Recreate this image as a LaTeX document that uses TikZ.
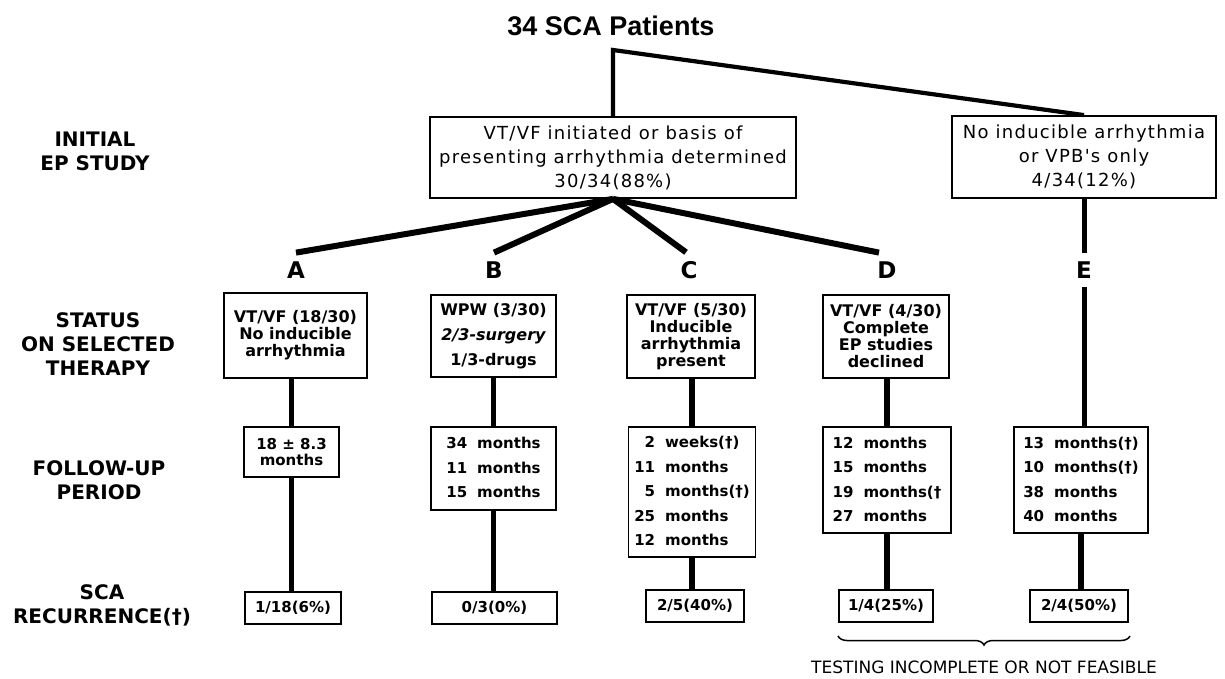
\documentclass[tikz,border=0pt]{standalone}
\usepackage{fontspec}
\setmainfont{DejaVu Sans}
\newfontfamily\titlefont{Liberation Sans}
\newfontfamily\topfont[LetterSpace=7]{DejaVu Sans}
\usetikzlibrary{decorations.pathreplacing}
\tikzset{
  box/.style={draw, line width=1.8pt, inner sep=0pt, align=center},
  topbox/.style={box, font=\topfont\fontsize{18}{24}\selectfont},
  stbox/.style={box, font=\bfseries\fontsize{16}{17}\selectfont, minimum height=83pt},
  fubox/.style={box, font=\bfseries\fontsize{15}{24.5}\selectfont},
  resbox/.style={box, font=\bfseries\fontsize{15}{18}\selectfont, minimum height=32pt},
  rowlabel/.style={font=\bfseries\fontsize{20}{24}\selectfont, align=center},
  letter/.style={font=\bfseries\fontsize{23}{23}\selectfont, inner sep=0pt, outer sep=9pt},
  topconn/.style={line width=4.2pt},
  branch/.style={line width=6pt},
  colconn/.style={line width=5.5pt},
  econn/.style={line width=5pt},
}
\begin{document}
\begin{tikzpicture}[x=1pt,y=-1pt]
\useasboundingbox (0,0) rectangle (1225,679);

% title
\node[font=\titlefont\bfseries\fontsize{27}{27}\selectfont] (title) at (611,26) {34 SCA Patients};

% row labels
\node[rowlabel] (lab1) at (95,151.5) {INITIAL\\EP STUDY};
\node[rowlabel] (lab2) at (98,344) {STATUS\\ON SELECTED\\THERAPY};
\node[rowlabel] (lab3) at (99,480) {FOLLOW-UP\\PERIOD};
\node[rowlabel] (lab4) at (102,605) {SCA\\RECURRENCE(†)};

% initial EP study boxes
\node[topbox, minimum width=366pt, minimum height=81pt] (ep1) at (613,157.5)
  {VT/VF initiated or basis of\\presenting arrhythmia determined\\30/34(88\%)};
\node[topbox, minimum width=264pt, minimum height=82pt] (ep2) at (1084,157)
  {No inducible arrhythmia\\or VPB's only\\4/34(12\%)};

\coordinate (split) at (612,50);
\draw[topconn] (ep1.north) -- (ep1.north |- split) -- (ep2.north);

% group letters
\node[letter] (A) at (296,270) {A};
\node[letter] (B) at (494,270) {B};
\node[letter] (C) at (689,270) {C};
\node[letter] (D) at (887,270) {D};
\node[letter] (E) at (1084,270) {E};

\draw[branch] (ep1.south) -- (A.north);
\draw[branch] (ep1.south) -- (B.north);
\draw[branch] (ep1.south) -- ([xshift=-3pt]C.north);
\draw[branch] (ep1.south) -- ([xshift=-8pt]D.north);
\draw[econn] (ep2.south) -- (E.north);

% status boxes
\node[stbox, minimum width=143pt, minimum height=85pt] (stA) at (295.5,335.5)
  {VT/VF (18/30)\\No inducible\\arrhythmia};
\node[stbox, minimum width=125pt, minimum height=82pt, font=\bfseries\fontsize{16}{25}\selectfont] (stB) at (493.5,336)
  {WPW (3/30)\\{\itshape 2/3-surgery}\\1/3-drugs};
\node[stbox, minimum width=128pt] (stC) at (691,336.5)
  {VT/VF (5/30)\\Inducible\\arrhythmia\\present};
\node[stbox, minimum width=126pt] (stD) at (886,336.5)
  {VT/VF (4/30)\\Complete\\EP studies\\declined};

% follow-up boxes
\node[fubox, minimum width=95pt, minimum height=50pt, font=\bfseries\fontsize{15}{16}\selectfont] (fuA) at (291.5,452)
  {18 ± 8.3\\months};
\node[fubox, minimum width=125pt, minimum height=83pt] (fuB) at (493.5,468.5)
  {\begin{tabular}{@{}r@{\hspace{10pt}}l@{}}34&months\\11&months\\15&months\end{tabular}};
\node[fubox, minimum width=127pt, minimum height=130pt] (fuC) at (692,492)
  {\begin{tabular}{@{}r@{\hspace{10pt}}l@{}}2&weeks(†)\\11&months\\5&months(†)\\25&months\\12&months\end{tabular}};
\node[fubox, minimum width=128pt, minimum height=106pt] (fuD) at (887,480)
  {\begin{tabular}{@{}r@{\hspace{10pt}}l@{}}12&months\\15&months\\19&months(†\\27&months\end{tabular}};
\node[fubox, minimum width=134pt, minimum height=106pt] (fuE) at (1081,480)
  {\begin{tabular}{@{}r@{\hspace{10pt}}l@{}}13&months(†)\\10&months(†)\\38&months\\40&months\end{tabular}};

% result boxes
\node[resbox, minimum width=96pt] (resA) at (293,608) {1/18(6\%)};
\node[resbox, minimum width=125pt] (resB) at (494.5,608) {0/3(0\%)};
\node[resbox, minimum width=98pt] (resC) at (695,606) {2/5(40\%)};
\node[resbox, minimum width=94pt] (resD) at (886,606) {1/4(25\%)};
\node[resbox, minimum width=98pt] (resE) at (1079,606) {2/4(50\%)};

% column connectors
\draw[colconn] (fuA.north) -- (fuA.north |- stA.south);
\draw[colconn] (fuA.south) -- (fuA.south |- resA.north);
\draw[colconn] (fuB.north) -- (fuB.north |- stB.south);
\draw[colconn] (fuB.south) -- (fuB.south |- resB.north);
\draw[colconn] (fuC.north) -- (fuC.north |- stC.south);
\draw[colconn] (fuC.south) -- (fuC.south |- resC.north);
\draw[colconn] (fuD.north) -- (fuD.north |- stD.south);
\draw[colconn] (fuD.south) -- (fuD.south |- resD.north);
\draw[econn] (E.south) -- (E.south |- fuE.north);
\draw[colconn] (fuE.south) -- (fuE.south |- resE.north);

% brace and note
\coordinate (brL) at (838,636);
\coordinate (brR) at (1130,636);
\draw[decorate, decoration={brace, amplitude=9pt}, line width=1.5pt] (brR) -- (brL);
\node[font=\fontsize{17}{17}\selectfont] (note) at (984,667) {TESTING INCOMPLETE OR NOT FEASIBLE};
\end{tikzpicture}
\end{document}
